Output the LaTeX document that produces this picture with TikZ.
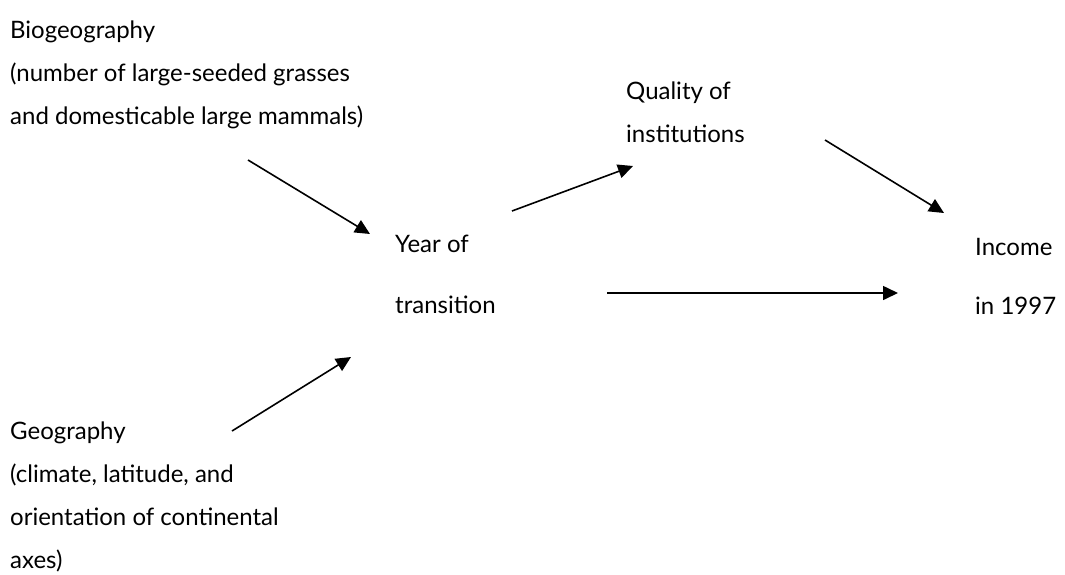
\documentclass[tikz,border=0pt]{standalone}
\usepackage{fontspec}
\setmainfont{Lato}
\usetikzlibrary{arrows.meta}
\begin{document}
\begin{tikzpicture}[x=1pt,y=-1pt,
  lbl/.style={anchor=base west,inner sep=0pt,align=left,font=\fontsize{24}{43}\selectfont},
  arr/.style={line width=1.6pt,-{Triangle[length=15pt,width=14pt]}}]
\useasboundingbox (0,0) rectangle (1065,574);
\node[lbl] (bio) at (10,124) {Biogeography\\(number of large-seeded grasses\\and domesticable large mammals)};
\node[lbl] (qual) at (626,142) {Quality of\\institutions};
\node[lbl] (year) at (395,313) {Year of\\[18pt]transition};
\node[lbl] (inc) at (975,314) {Income\\[16pt]in 1997};
\node[lbl] (geo) at (10,568) {Geography\\(climate, latitude, and\\orientation of continental\\axes)};
\coordinate (a1s) at (248,160); \coordinate (a1e) at (370,234);
\coordinate (a2s) at (512,211); \coordinate (a2e) at (633,166);
\coordinate (a3s) at (825,140); \coordinate (a3e) at (944,213);
\coordinate (a4s) at (607,293); \coordinate (a4e) at (898,293);
\coordinate (a5s) at (232,431); \coordinate (a5e) at (351,357);
\draw[arr] (a1s) -- (a1e);
\draw[arr] (a2s) -- (a2e);
\draw[arr] (a3s) -- (a3e);
\draw[arr] (a4s) -- (a4e);
\draw[arr] (a5s) -- (a5e);
\end{tikzpicture}
\end{document}
